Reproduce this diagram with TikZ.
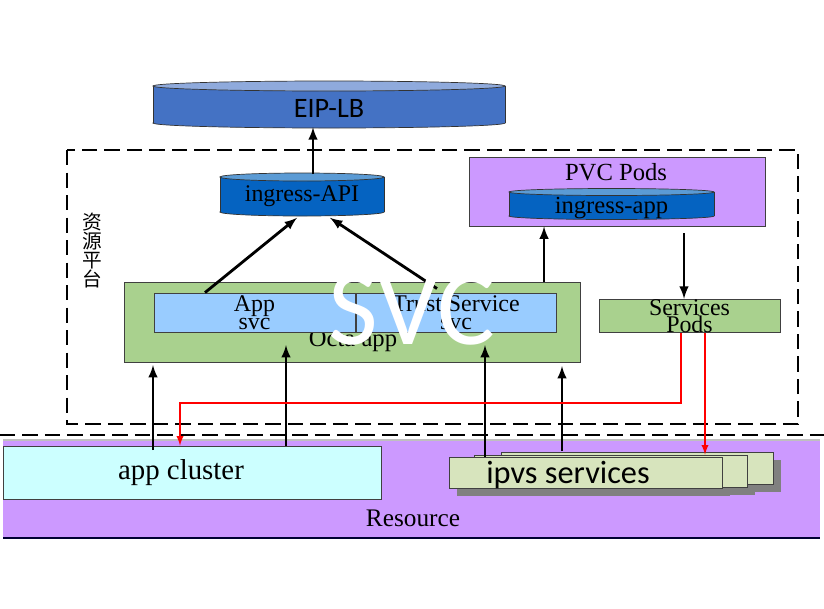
\documentclass[tikz,border=0pt]{standalone}
\usepackage{fontspec}
\setmainfont{Liberation Serif}
\newfontfamily\calib{Carlito}
\newfontfamily\cjk{Noto Sans CJK SC}
\usepackage{tikz}
\usetikzlibrary{positioning}
\usetikzlibrary{arrows}
\definecolor{lbbody}{HTML}{4472C4}
\definecolor{lbtop}{HTML}{8FAADC}
\definecolor{dbbody}{HTML}{0563C1}
\definecolor{dbtop}{HTML}{5B9BD5}
\definecolor{lilac}{HTML}{CC99FF}
\definecolor{leaf}{HTML}{A9D18E}
\definecolor{sky}{HTML}{99CCFF}
\definecolor{aqua}{HTML}{CCFFFF}
\definecolor{pale}{HTML}{D7E4BD}

\begin{document}
\begin{tikzpicture}[x=0.025cm,y=-0.025cm,
  box/.style={draw=black!75,line width=0.6pt,inner sep=0pt},
  lbl/.style={font=\fontsize{17}{13}\selectfont,align=center},
  arr/.style={-latex,line width=2pt},
  redarr/.style={-latex,line width=1.3pt,red},
  dashline/.style={line width=2pt,dash pattern=on 11pt off 5pt}]
\useasboundingbox (0,0) rectangle (824,608);

% EIP-LB
\filldraw[fill=lbbody,draw=black!80,line width=0.5pt] (329,123) ellipse [x radius=4.4cm,y radius=0.125cm];
\fill[lbbody] (153,86) rectangle (505,123);
\draw[black!80,line width=0.5pt] (153,86) -- (153,123) (505,86) -- (505,123);
\filldraw[fill=lbtop,draw=black!80,line width=0.5pt] (329,86) ellipse [x radius=4.4cm,y radius=0.125cm];
\node[minimum width=8.8cm,minimum height=0.95cm,inner sep=0pt] (eip) at (329,108) {\calib\fontsize{20}{24}\selectfont EIP-LB};

% resource platform frame
\draw[dashline] (67,150) rectangle (798,424);
\node[font=\cjk\fontsize{14}{13.5}\selectfont,align=center] (zy) at (92,251) {资\\源\\平\\台};

% ingress-API
\filldraw[fill=dbbody,draw=black!80,line width=0.5pt] (302,212) ellipse [x radius=2.05cm,y radius=0.1cm];
\fill[dbbody] (220,177) rectangle (384,212);
\draw[black!80,line width=0.5pt] (220,177) -- (220,212) (384,177) -- (384,212);
\filldraw[fill=dbtop,draw=black!80,line width=0.5pt] (302,177) ellipse [x radius=2.05cm,y radius=0.1cm];
\node[lbl,minimum width=4.1cm,minimum height=1.075cm,inner sep=0pt] (api) at (302,196) {ingress-API};

% PVC Pods
\node[box,fill=lilac,minimum width=7.4cm,minimum height=1.725cm] (pvc) at (617,191.5) {};
\node[lbl,font=\fontsize{17.5}{13}\selectfont] at (616,172) {PVC Pods};
\filldraw[fill=dbbody,draw=black!80,line width=0.5pt] (611.5,216) ellipse [x radius=2.5625cm,y radius=0.0875cm];
\fill[dbbody] (509,192) rectangle (714,216);
\draw[black!80,line width=0.5pt] (509,192) -- (509,216) (714,192) -- (714,216);
\filldraw[fill=dbtop,draw=black!80,line width=0.5pt] (611.5,192) ellipse [x radius=2.5625cm,y radius=0.0875cm];
\node[lbl,font=\fontsize{17.5}{13}\selectfont] (iapp) at (611.5,208) {ingress-app};

% Octa app
\node[box,fill=leaf,minimum width=11.4cm,minimum height=2cm] (octa) at (352,322) {};
\node[lbl,font=\fontsize{17.5}{13}\selectfont] at (353,341) {Octa app};
\node[box,fill=sky,minimum width=5.025cm,minimum height=0.975cm,lbl] (appsvc) at (254.5,312.5) {App\\svc};
\node[box,fill=sky,minimum width=5cm,minimum height=0.975cm,lbl] (trust) at (456,312.5) {Trust Service\\svc};

% Services Pods
\node[box,fill=leaf,minimum width=4.525cm,minimum height=0.8cm,font=\fontsize{17}{12.5}\selectfont,align=center] (spods) at (689.5,316) {Services\\Pods};

% Resource
\fill[lilac] (3,440) rectangle (820,538);
\draw[black!25,line width=0.8pt] (3,440) -- (820,440);
\draw[black!80!blue,line width=0.8pt] (3,538) -- (820,538);
\node[font=\fontsize{18}{20}\selectfont] (res) at (413,518) {Resource};
\node[box,fill=aqua,minimum width=9.45cm,minimum height=1.325cm] (cluster) at (192,472.5) {};
\node[font=\fontsize{20.5}{24}\selectfont] at (181,473) {app cluster};

% ipvs services stack
\fill[black!50] (509,460) rectangle (781,492);
\fill[black!50] (482,463) rectangle (755,495);
\fill[black!50] (457,465) rectangle (730,496);
\node[box,fill=pale,minimum width=6.8cm,minimum height=0.8cm] (ipvs3) at (637,468) {};
\node[box,fill=pale,minimum width=6.825cm,minimum height=0.8cm] (ipvs2) at (610.5,471) {};
\node[box,fill=pale,minimum width=6.825cm,minimum height=0.775cm] (ipvs1) at (585.5,472.5) {};
\node[font=\calib\fontsize{23}{26}\selectfont] at (568,475) {ipvs services};

% dashed separator
\draw[dashline] (0,435) -- (824,435);

% arrows up to the load balancer
\draw[arr] ([xshift=0.275cm]api.north) -- ([xshift=0.275cm]api.north |- eip.south);
\draw[arr] ([xshift=-1.2375cm]appsvc.north) -- ([xshift=-0.125cm]api.south);
\draw[arr] ([xshift=-0.475cm,yshift=0.1cm]trust.north) -- ([xshift=0.7cm]api.south);
\draw[arr] ([xshift=4.8cm]octa.north) -- ([xshift=4.8cm]octa.north |- pvc.south);
\draw[arr] ([xshift=1.675cm,yshift=-0.175cm]pvc.south) -- ([xshift=1.675cm]pvc.south |- spods.north);

% overlay
\node[white,font=\calib\fontsize{77}{84}\selectfont] (svc) at (412,310) {SVC};

% arrows up from the resource layer
\coordinate (up1) at (153,450);
\coordinate (up2) at (286,446);
\coordinate (up3) at (485,457);
\coordinate (up4) at (562,451);
\draw[arr] (up1) -- (153,365);
\draw[arr] (up2) -- (286,345);
\draw[arr] (up3) -- (485,345);
\draw[arr] (up4) -- (562,366);

% red links
\coordinate (rbend) at (180,403);
\draw[redarr] ([xshift=-0.2125cm]spods.south) |- (rbend) -- (rbend |- cluster.north);
\draw[redarr] ([xshift=0.3875cm]spods.south) -- ([xshift=0.3875cm]spods.south |- ipvs2.north);
\end{tikzpicture}
\end{document}
